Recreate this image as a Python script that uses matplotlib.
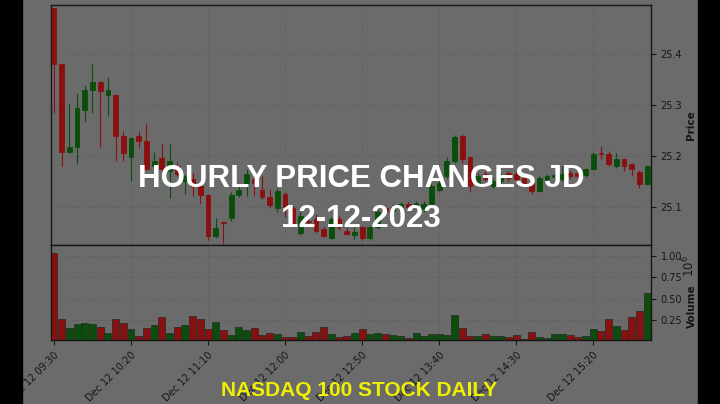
import numpy as np
import pandas as pd
import matplotlib
matplotlib.use("Agg")
import matplotlib.pyplot as plt
from matplotlib.patches import Rectangle

# 5-minute bars, JD, 12 Dec 2023
opens = [25.491, 25.380, 25.208, 25.218, 25.289, 25.330, 25.345, 25.320, 25.320, 25.239,
         25.198, 25.239, 25.228, 25.179, 25.195, 25.170, 25.180, 25.150, 25.155, 25.141,
         25.123, 25.042, 25.070, 25.078, 25.123, 25.147, 25.155, 25.133, 25.119, 25.098,
         25.124, 25.098, 25.049, 25.072, 25.076, 25.056, 25.039, 25.076, 25.052, 25.044,
         25.059, 25.038, 25.060, 25.098, 25.092, 25.100, 25.106, 25.100, 25.096, 25.106,
         25.132, 25.160, 25.190, 25.239, 25.197, 25.147, 25.165, 25.141, 25.150, 25.166,
         25.164, 25.156, 25.147, 25.131, 25.153, 25.158, 25.155, 25.166, 25.166, 25.162,
         25.174, 25.206, 25.204, 25.179, 25.194, 25.184, 25.169, 25.144]
highs = [25.491, 25.381, 25.301, 25.324, 25.339, 25.380, 25.346, 25.354, 25.322, 25.248,
         25.236, 25.248, 25.264, 25.208, 25.223, 25.223, 25.187, 25.165, 25.167, 25.145,
         25.124, 25.078, 25.071, 25.128, 25.147, 25.174, 25.167, 25.160, 25.135, 25.136,
         25.128, 25.102, 25.090, 25.080, 25.085, 25.062, 25.080, 25.082, 25.060, 25.060,
         25.062, 25.062, 25.094, 25.104, 25.106, 25.110, 25.110, 25.112, 25.112, 25.146,
         25.152, 25.198, 25.240, 25.243, 25.200, 25.166, 25.170, 25.156, 25.166, 25.170,
         25.168, 25.160, 25.150, 25.160, 25.164, 25.166, 25.180, 25.172, 25.170, 25.176,
         25.208, 25.220, 25.209, 25.206, 25.196, 25.186, 25.171, 25.180]
lows = [25.283, 25.180, 25.205, 25.184, 25.266, 25.283, 25.218, 25.279, 25.190, 25.190,
        25.151, 25.216, 25.172, 25.172, 25.168, 25.117, 25.160, 25.125, 25.121, 25.105,
        25.034, 25.038, 25.029, 25.072, 25.118, 25.121, 25.121, 25.115, 25.098, 25.090,
        25.080, 25.060, 25.044, 25.060, 25.048, 25.040, 25.036, 25.055, 25.044, 25.036,
        25.035, 25.034, 25.056, 25.088, 25.088, 25.096, 25.096, 25.096, 25.090, 25.100,
        25.128, 25.156, 25.186, 25.186, 25.128, 25.140, 25.150, 25.136, 25.146, 25.150,
        25.148, 25.140, 25.125, 25.128, 25.150, 25.152, 25.150, 25.155, 25.156, 25.158,
        25.172, 25.194, 25.180, 25.176, 25.170, 25.160, 25.137, 25.142]
closes = [25.381, 25.208, 25.218, 25.294, 25.330, 25.345, 25.327, 25.330, 25.238, 25.205,
          25.235, 25.228, 25.174, 25.190, 25.174, 25.190, 25.164, 25.160, 25.141, 25.123,
          25.042, 25.058, 25.068, 25.123, 25.133, 25.164, 25.147, 25.118, 25.103, 25.131,
          25.096, 25.066, 25.082, 25.070, 25.052, 25.042, 25.076, 25.059, 25.046, 25.050,
          25.038, 25.059, 25.090, 25.092, 25.100, 25.106, 25.100, 25.108, 25.106, 25.141,
          25.146, 25.190, 25.236, 25.193, 25.141, 25.161, 25.155, 25.151, 25.160, 25.157,
          25.154, 25.146, 25.131, 25.157, 25.160, 25.162, 25.165, 25.160, 25.160, 25.174,
          25.204, 25.204, 25.184, 25.194, 25.179, 25.174, 25.144, 25.179]
# volume in millions of shares
volumes = [1.026, 0.26, 0.16, 0.20, 0.22, 0.20, 0.165, 0.095, 0.26, 0.215,
           0.145, 0.067, 0.16, 0.19, 0.29, 0.10, 0.17, 0.19, 0.30, 0.265,
           0.15, 0.227, 0.134, 0.075, 0.17, 0.134, 0.16, 0.075, 0.10, 0.087,
           0.052, 0.052, 0.11, 0.064, 0.107, 0.17, 0.087, 0.052, 0.064, 0.095,
           0.14, 0.09, 0.095, 0.09, 0.08, 0.06, 0.04, 0.10, 0.067, 0.087,
           0.087, 0.08, 0.305, 0.157, 0.064, 0.06, 0.083, 0.064, 0.064, 0.056,
           0.07, 0.03, 0.107, 0.052, 0.044, 0.083, 0.083, 0.07, 0.052, 0.06,
           0.15, 0.125, 0.26, 0.18, 0.134, 0.28, 0.355, 0.56]
price_ticks = [25.1, 25.2, 25.3, 25.4]
volume_ticks = [0.25, 0.50, 0.75, 1.00]

times = pd.date_range("2023-12-12 09:30", periods=len(opens), freq="5min")

BG = "#6b6b6b"
GRID = "#5f5f5f"
INK = "#161616"
UP = "#0b4d0b"
DOWN = "#8a1010"

W, H = 720, 404
fig = plt.figure(figsize=(W / 100, H / 100), dpi=100, facecolor=BG)
left, right = 50.5, 651
ax_p = fig.add_axes([left / W, 1 - 245 / H, (right - left) / W, (245 - 4.7) / H])
ax_v = fig.add_axes([left / W, 1 - 340 / H, (right - left) / W, (340 - 245) / H],
                    sharex=ax_p)

o = np.array(opens)
c = np.array(closes)
x = np.arange(len(o))
up = c >= o
colors = np.where(up, UP, DOWN)

# candles
ax_p.vlines(x, lows, highs, colors=colors, linewidth=0.8, zorder=2)
ax_p.bar(x, np.abs(c - o), bottom=np.minimum(o, c), width=0.62,
         color=colors, edgecolor=colors, linewidth=0.6, zorder=3)

# volume
ax_v.bar(x, volumes, width=0.9, color=colors, edgecolor="#262626",
         linewidth=0.5, zorder=2)

for ax in (ax_p, ax_v):
    ax.set_facecolor(BG)
    ax.grid(True, color=GRID, linestyle=(0, (2, 2)), linewidth=0.6, zorder=0)
    ax.set_axisbelow(True)
    ax.yaxis.tick_right()
    ax.yaxis.set_label_position("right")
    ax.tick_params(colors=INK, labelsize=7, length=3.5, width=0.8)
    for s in ax.spines.values():
        s.set_color(INK)
        s.set_linewidth(1.0)

ax_p.set_xlim(-0.45, 77.5)
ax_p.set_ylim(25.0246, 25.4967)
ax_p.set_yticks(price_ticks)
ax_p.set_yticklabels([f"{t:.1f}" for t in price_ticks])
ax_p.tick_params(axis="x", labelbottom=False, length=0)
ax_p.set_ylabel("Price", fontsize=7.5, fontweight="bold", color=INK)
ax_p.yaxis.set_label_coords((686 - left) / (right - left), 0.5)

ax_v.set_ylim(0.0166, 1.125)
ax_v.set_yticks(volume_ticks)
ax_v.set_yticklabels([f"{t:.2f}" for t in volume_ticks])
tick_idx = x[::10]
ax_v.set_xticks(tick_idx)
ax_v.set_xticklabels([times[i].strftime("Dec %d %H:%M") for i in tick_idx],
                     rotation=45, ha="right", rotation_mode="anchor")
ax_v.set_ylabel("Volume", fontsize=7.5, fontweight="bold", color=INK)
ax_v.yaxis.set_label_coords((687 - left) / (right - left), (340 - 306) / 95)
fig.text(689 / W, 1 - 266 / H, r"$10^6$", rotation=90, fontsize=8.5,
         color=INK, ha="center", va="center")

# video-frame borders
fig.add_artist(Rectangle((0, 0), 22 / W, 1, transform=fig.transFigure,
                         color="black", zorder=10))
fig.add_artist(Rectangle((698 / W, 0), 1 - 698 / W, 1, transform=fig.transFigure,
                         color="black", zorder=10))

# overlay captions
fig.text(361 / W, 1 - 179 / H, "HOURLY PRICE CHANGES JD", family="Liberation Sans",
         fontweight="bold", fontsize=22.5, color="white", ha="center", va="center",
         zorder=20)
fig.text(361 / W, 1 - 219 / H, "12-12-2023", family="Liberation Sans",
         fontweight="bold", fontsize=22.5, color="white", ha="center", va="center",
         zorder=20)
fig.text(359 / W, 1 - 391 / H, "NASDAQ 100 STOCK DAILY", family="Liberation Sans",
         fontweight="bold", fontsize=15, color="#f0f000", ha="center", va="center",
         zorder=20)

fig.savefig("out.png", dpi=100, facecolor=BG)
